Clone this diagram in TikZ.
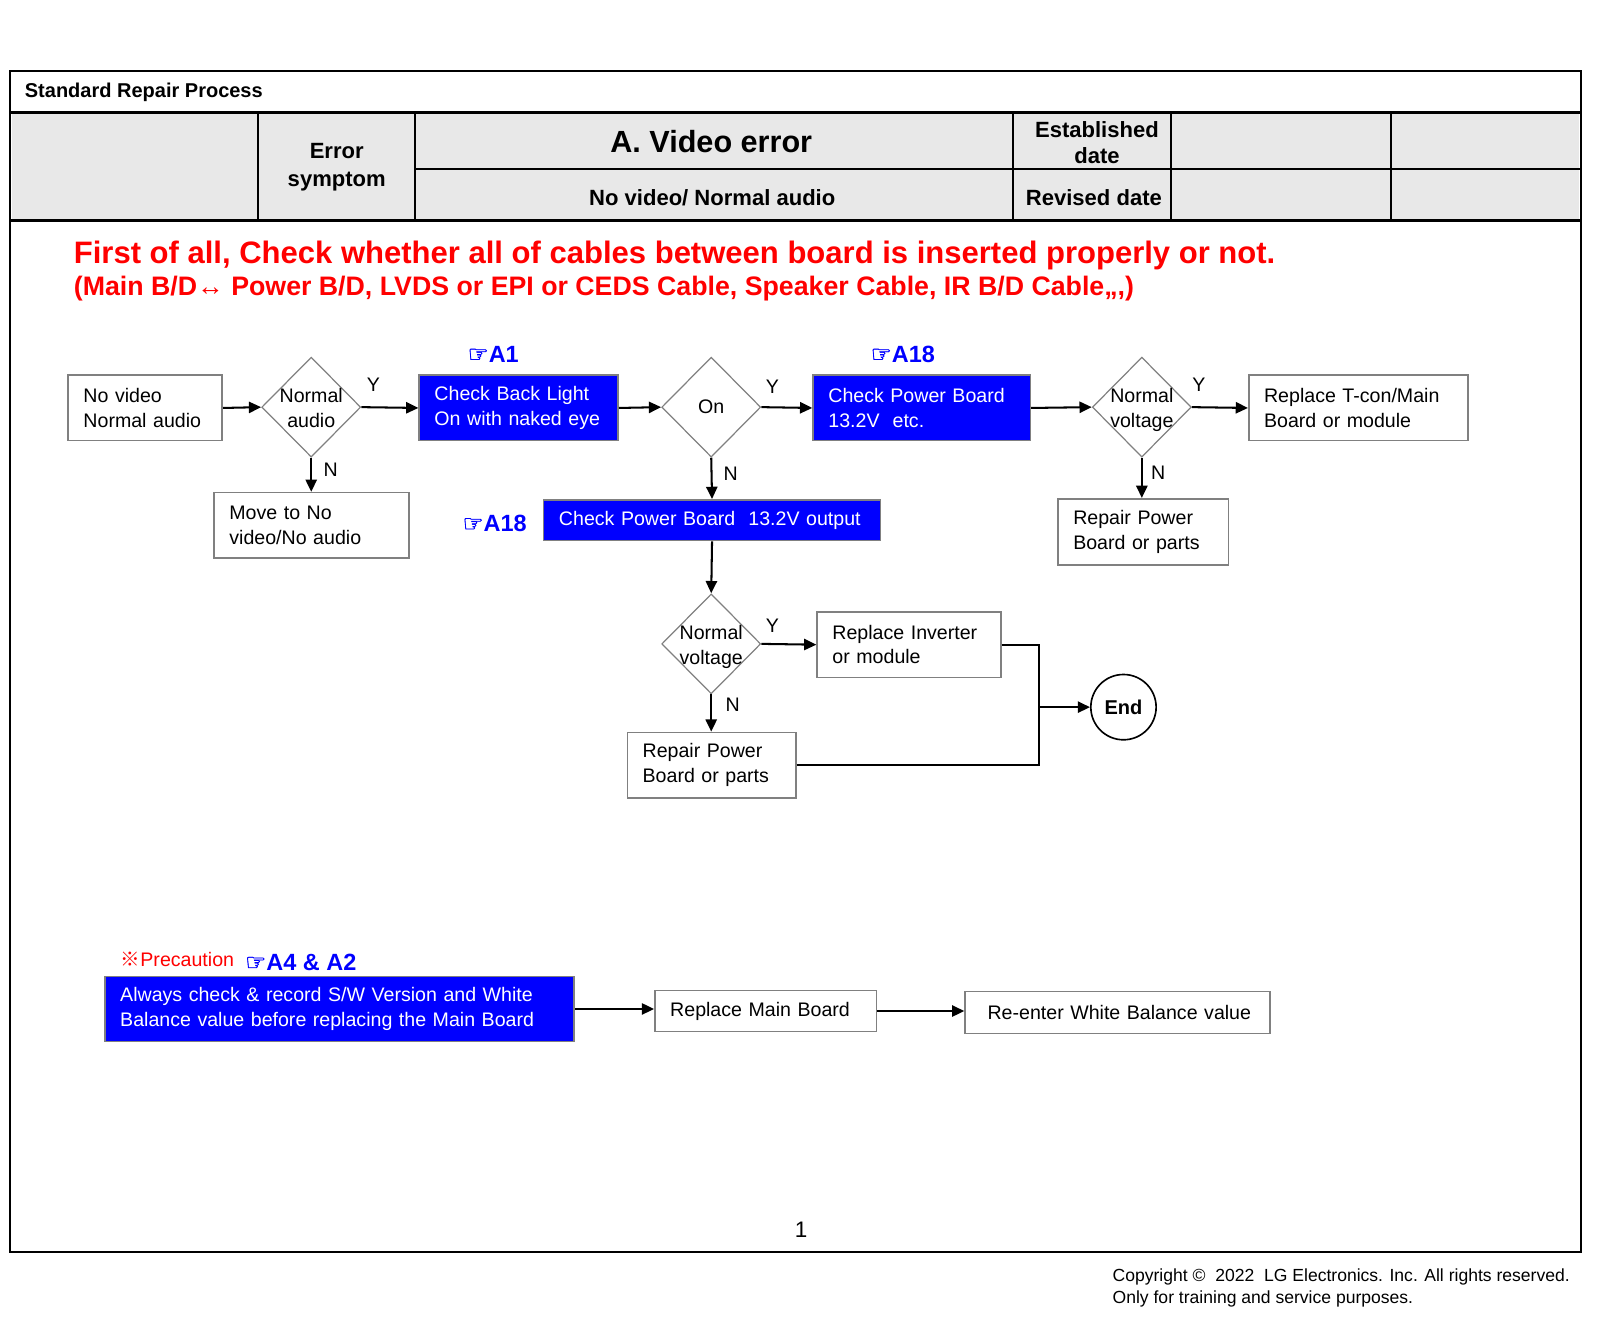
\documentclass[tikz,border=0pt]{standalone}
\usepackage{fontspec}
\setmainfont{Liberation Sans}
\newfontfamily\handfont[FakeBold=1.5]{DejaVu Sans}
\newfontfamily\markfont{Noto Sans CJK SC}
\usepackage{xcolor}
\usetikzlibrary{shapes.geometric,arrows.meta}

\definecolor{hdrgray}{RGB}{232,232,232}
\definecolor{edgegray}{RGB}{128,128,128}
\definecolor{refblue}{RGB}{0,0,255}

\newcommand{\hand}{{\handfont ☞}}
\newcommand{\twolines}[2]{\raisebox{-1.5pt}[\height][\depth]{\makebox[0pt]{\begin{tabular}{@{}c@{}}#1\\#2\end{tabular}}}}

\begin{document}
\begin{tikzpicture}[x=0.5pt, y=-0.5pt,
  txt/.style={inner sep=0pt},
  boxfont/.style={font=\fontsize{9.6}{12}\selectfont},
  hdrfont/.style={font=\fontsize{10.8}{13.5}\bfseries\selectfont},
  box/.style={draw=edgegray, line width=0.8pt, fill=white, anchor=north west, align=left, inner xsep=0pt, inner ysep=0pt, execute at begin node={\leftskip=7.5pt}, boxfont},
  bluebox/.style={box, fill=refblue, text=white},
  dia/.style={diamond, draw=edgegray, line width=0.6pt, inner sep=0pt, minimum width=48.5pt, minimum height=49pt, boxfont},
  link/.style={line width=1pt},
  arr/.style={link, -{Triangle[length=6pt,width=5.5pt]}},
  yn/.style={txt, boxfont},
  refmark/.style={txt, anchor=west, text=refblue, font=\fontsize{11.5}{14}\bfseries\selectfont},
]
\useasboundingbox (0,0) rectangle (1568,1299);

\fill[hdrgray] (12,112) rectangle (1547,215);
\draw[line width=1pt] (10,70) rectangle (1549,1227);
\draw[line width=1.6pt] (10,110) -- (1549,110);
\draw[line width=1.6pt] (10,216) -- (1549,216);
\draw[line width=1pt] (253,110) -- (253,216);
\draw[line width=1pt] (407,110) -- (407,216);
\draw[line width=1pt] (993,110) -- (993,216);
\draw[line width=1pt] (1148,110) -- (1148,216);
\draw[line width=1pt] (1363,110) -- (1363,216);
\draw[line width=1pt] (407,166) -- (1549,166);

\node[txt, anchor=west, font=\fontsize{9.8}{12}\bfseries\selectfont] (srp) at (24,90) {Standard Repair Process};
\node[txt, hdrfont, align=center] (sym) at (330,164) {Error\\symptom};
\node[txt, font=\fontsize{15}{18}\bfseries\selectfont] (ttl) at (697,139) {A. Video error};
\node[txt, hdrfont] (nvna) at (698,194) {No video/ Normal audio};
\node[txt, font=\fontsize{10.8}{13}\bfseries\selectfont, align=center] (est) at (1075,140) {Established\\date};
\node[txt, hdrfont] (rev) at (1072,194) {Revised date};

\node[txt, anchor=west, text=red, font=\fontsize{15.2}{18}\bfseries\selectfont] (chk) at (72,250) {First of all, Check whether all of cables between board is inserted properly or not.};
\node[txt, anchor=west, text=red, font=\fontsize{13.1}{16}\bfseries\selectfont] (cbl) at (72,283) {(Main B/D{\mdseries↔} Power B/D, LVDS or EPI or CEDS Cable, Speaker Cable, IR B/D Cable,,,)};

\node[box, text width=75.5pt, minimum height=32pt] (nv) at (66,367) {No video\\Normal audio};
\node[dia] (na) at (305,399) {\twolines{Normal}{audio}};
\node[bluebox, text width=97.5pt, minimum height=32pt] (cbk) at (410,367) {Check Back Light\\On with naked eye};
\node[dia] (on) at (697,399) {On};
\node[bluebox, text width=106.5pt, minimum height=32pt] (cpb) at (796,367) {Check Power Board\\13.2V~ etc.};
\node[dia] (nvo) at (1119,399) {\twolines{Normal}{voltage}};
\node[box, text width=107.5pt, minimum height=32pt] (rtc) at (1223,367) {Replace T-con/Main\\Board or module};
\node[box, text width=95.5pt, minimum height=32pt] (mv) at (209,482) {Move to No\\video/No audio};
\node[bluebox, text width=165pt, minimum height=20pt] (cpo) at (532,489) {Check Power Board~ 13.2V output};
\node[box, text width=83.5pt, minimum height=32.5pt] (rpa) at (1036,488) {Repair Power\\Board or parts};
\node[dia] (nvt) at (697,631) {\twolines{Normal}{voltage}};
\node[box, text width=90pt, minimum height=32pt] (inv) at (800,599) {Replace Inverter\\or module};
\node[box, text width=82.5pt, minimum height=32pt] (rpb) at (614,717) {Repair Power\\Board or parts};
\node[circle, draw, line width=0.8pt, minimum size=32pt, inner sep=0pt, font=\fontsize{9.8}{12}\bfseries\selectfont] (fin) at (1101,693) {End};
\coordinate (jn) at (1018,693);

\node[refmark] (ra1) at (458,347) {\hand A1};
\node[refmark] (ra18t) at (853,347) {\hand A18};
\node[refmark] (ra18l) at (453,513) {\hand A18};

\node[yn] (y1) at (366,377) {Y};
\node[yn] (n1) at (324,460) {N};
\node[yn] (y2) at (757,379) {Y};
\node[yn] (n2) at (716,464) {N};
\node[yn] (y3) at (1175,377) {Y};
\node[yn] (n3) at (1135,463) {N};
\node[yn] (y4) at (757,613) {Y};
\node[yn] (n4) at (718,691) {N};

\draw[arr] (nv.east) -- (na.west);
\draw[arr] (na.east) -- (cbk.west);
\draw[arr] (cbk.east) -- (on.west);
\draw[arr] (on.east) -- (cpb.west);
\draw[arr] (cpb.east) -- (nvo.west);
\draw[arr] (nvo.east) -- (rtc.west);
\draw[arr] (na.south) -- (na.south |- mv.north);
\draw[arr] (on.south) -- (cpo.north);
\draw[arr] (nvo.south) -- (nvo.south |- rpa.north);
\draw[arr] (cpo.south) -- (nvt.north);
\draw[arr] (nvt.east) -- (inv.west);
\draw[arr] (nvt.south) -- (nvt.south |- rpb.north);
\draw[link] (inv.east) -| (jn);
\draw[link] (rpb.east) -| (jn);
\draw[arr] (jn) -- (fin.west);

\node[txt, anchor=west, text=red, font=\fontsize{9.6}{12}\selectfont] (prc) at (118,940) {{\markfont ※}Precaution};
\node[refmark] (ra4) at (240,943) {\hand A4 \& A2};
\node[bluebox, text width=230pt, minimum height=32pt] (pre) at (102,956) {Always check \& record S/W Version and White\\Balance value before replacing the Main Board};
\node[box, text width=108.5pt, minimum height=20pt] (rmb) at (641,970) {Replace Main Board};
\node[box, text width=149.5pt, minimum height=20.5pt, execute at begin node={\leftskip=11pt}] (rwb) at (945,971) {Re-enter White Balance value};
\draw[arr] (pre.east) -- (pre.east -| rmb.west);
\draw[arr] (rmb.east) -- (rmb.east -| rwb.west);

\node[txt, font=\fontsize{11}{13}\selectfont] (pg) at (785,1205) {1};
\node[txt, anchor=west, align=left, font=\fontsize{8.6}{10.5}\selectfont] (cpr) at (1090,1262) {Copyright ©~ 2022~ LG Electronics. Inc. All rights reserved.\\Only for training and service purposes.};

\end{tikzpicture}
\end{document}
